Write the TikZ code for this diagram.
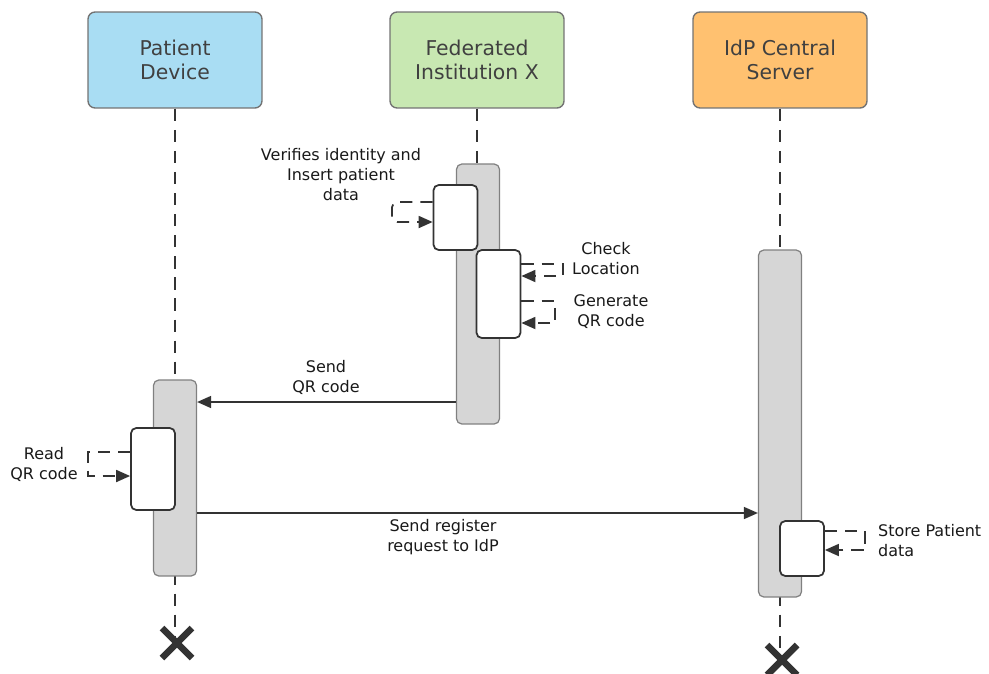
\documentclass[tikz,border=0pt]{standalone}
\usepackage{fontspec}
\setmainfont{DejaVu Sans}
\definecolor{HeadBlue}  {RGB}{169,221,243}
\definecolor{HeadGreen} {RGB}{200,232,178}
\definecolor{HeadOrange}{RGB}{255,193,112}
\definecolor{BarGray}   {RGB}{214,214,214}
\definecolor{LineDark}  {RGB}{51,51,51}
\usetikzlibrary{arrows.meta,positioning,calc}

\begin{document}
\begin{tikzpicture}[x=0.02cm,y=-0.02cm,
  head/.style={draw=black!55,rounded corners=4pt,line width=0.8pt,
               minimum width=3.48cm,minimum height=1.92cm,
               align=center,font=\fontsize{11.6}{14}\selectfont,text=black!75},
  actbar/.style={draw=black!50,fill=BarGray,rounded corners=3pt,line width=0.7pt,
                 minimum width=0.86cm},
  execbox/.style={draw=LineDark,fill=white,rounded corners=3pt,line width=1pt,
                  minimum width=0.88cm},
  life/.style={LineDark,line width=1pt,dash pattern=on 7pt off 5pt},
  selfcall/.style={LineDark,line width=1pt,dash pattern=on 7pt off 4.5pt},
  msg/.style={LineDark,line width=0.9pt},
  tip/.style={-{Triangle[length=0.28cm,width=0.24cm]}},
  lbl/.style={align=center,font=\fontsize{9.1}{11.4}\selectfont,text=black!90},
  kill/.style={LineDark,line width=3.8pt}]
  \useasboundingbox (0,0) rectangle (989,673);
  % participants
  \node[head,fill=HeadBlue]  (P) at (175,60) {Patient\\Device};
  \node[head,fill=HeadGreen] (F) at (477,60) {Federated\\Institution X};
  \node[head,fill=HeadOrange](I) at (780,60) {IdP Central\\Server};
  % end markers
  \coordinate (xP) at (177,643);
  \coordinate (xI) at (782,660);
  % lifelines
  \draw[life](P.south)--(P.south |- xP);
  \draw[life](F.south)--(477,300);
  \draw[life](I.south)--(I.south |- xI);
  % activation bars
  \node[actbar,minimum height=3.92cm](barP) at (175,478) {};
  \node[actbar,minimum height=5.2cm] (barF) at (478,294) {};
  \node[actbar,minimum height=6.94cm](barI) at (780,423.5) {};
  % execution boxes
  \node[execbox,minimum height=1.3cm] (exF1) at (455.5,217.5) {};
  \node[execbox,minimum height=1.76cm](exF2) at (498.5,294) {};
  \node[execbox,minimum height=1.64cm](exP)  at (153,469) {};
  \node[execbox,minimum height=1.1cm] (exI)  at (802,548.5) {};
  % self calls
  \draw[selfcall,tip,rounded corners=3pt](exF1.west |- 0,202)--(392,202)--(392,222)
       --(exF1.west |- 0,222);
  \draw[selfcall,tip](exF2.east |- 0,264)--(563,264)--(563,276)--(exF2.east |- 0,276);
  \draw[selfcall,tip](exF2.east |- 0,301)--(555,301)--(555,323)--(exF2.east |- 0,323);
  \draw[selfcall,tip](exP.west |- 0,452)--(88,452)--(88,476)--(exP.west |- 0,476);
  \draw[selfcall,tip](exI.east |- 0,531)--(865,531)--(865,550)--(exI.east |- 0,550);
  % messages
  \draw[msg,tip](barF.west |- 0,402)--(barP.east |- 0,402);
  \draw[msg,tip](barP.east |- 0,513)--(barI.west |- 0,513);
  % labels
  \node[lbl](lVerify) at (341,175) {Verifies identity and\\Insert patient\\data};
  \node[lbl](lCheck)  at (606,259) {Check\\Location};
  \node[lbl](lGen)    at (611,312) {Generate\\QR code};
  \node[lbl](lSend)   at (326,377) {Send\\QR code};
  \node[lbl](lRead)   at (44,464)  {Read\\QR code};
  \node[lbl](lReg)    at (443,537) {Send register\\request to IdP};
  \node[lbl,align=left,anchor=west](lStore) at (872,541) {Store Patient\\data};
  % destroy marks
  \draw[kill]($(xP)+(-15,-15)$)--($(xP)+(15,15)$) ($(xP)+(-15,15)$)--($(xP)+(15,-15)$);
  \draw[kill]($(xI)+(-15,-15)$)--($(xI)+(15,15)$) ($(xI)+(-15,15)$)--($(xI)+(15,-15)$);
\end{tikzpicture}
\end{document}
